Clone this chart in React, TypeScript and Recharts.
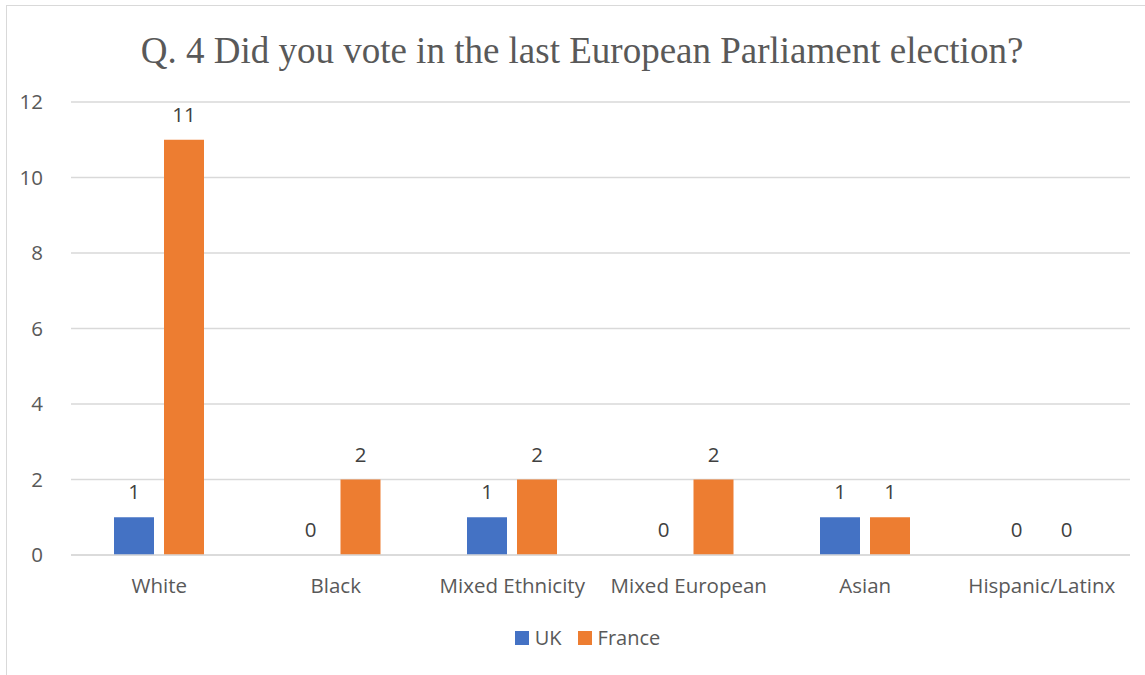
import React from "react"
import { BarChart, Bar, XAxis, YAxis, CartesianGrid, Legend, LabelList } from "recharts"

const categories = ["White", "Black", "Mixed Ethnicity", "Mixed European", "Asian", "Hispanic/Latinx"]
const ukValues = [1, 0, 1, 0, 1, 0]
const franceValues = [11, 2, 2, 2, 1, 0]
const yTicks = [0, 2, 4, 6, 8, 10, 12]

const data = categories.map((name, i) => ({ name, UK: ukValues[i], France: franceValues[i] }))

const tickFont = { fontFamily: "Open Sans", fontSize: 20.5, fill: "#595959" }

const LegendContent = () => (
  <div style={{ display: "flex", justifyContent: "center", gap: 16, fontFamily: "Open Sans", fontSize: 20, color: "#595959" }}>
    {[
      { label: "UK", color: "#4472c4" },
      { label: "France", color: "#ed7d31" }
    ].map((it) => (
      <div key={it.label} style={{ display: "flex", alignItems: "center" }}>
        <span style={{ width: 14, height: 14, background: it.color, display: "inline-block", marginRight: 6 }} />
        <span>{it.label}</span>
      </div>
    ))}
  </div>
)

const valueLabel = (props: any) => {
  const { x, y, width, value } = props
  return (
    <text
      x={Number(x) + Number(width) / 2}
      y={Number(y) - 18}
      textAnchor="middle"
      fontFamily="Open Sans"
      fontSize={20.5}
      fill="#404040"
    >
      {value}
    </text>
  )
}

const App: React.FC = () => {
  return (
    <div style={{ position: "absolute", left: 0, top: 0, width: 1145, height: 675, overflow: "hidden", background: "#fff" }}>
      <div
        style={{
          position: "absolute",
          left: 6,
          top: 5,
          width: 1160,
          height: 700,
          border: "1.5px solid #d9d9d9"
        }}
      />
      <div
        style={{
          position: "absolute",
          left: 0,
          top: 27,
          width: 1164,
          textAlign: "center",
          fontFamily: "Liberation Serif",
          fontSize: 37,
          color: "#595959",
          lineHeight: "48px"
        }}
      >
        Q. 4 Did you vote in the last European Parliament election?
      </div>
      <div style={{ position: "absolute", left: 0, top: 0 }}>
        <BarChart
          width={1145}
          height={675}
          data={data}
          margin={{ top: 102, right: 15, left: 11, bottom: 80 }}
          barGap={10}
          barSize={40}
        >
          <CartesianGrid vertical={false} stroke="#d9d9d9" strokeWidth={1.5} />
          <XAxis
            dataKey="name"
            axisLine={{ stroke: "#d9d9d9", strokeWidth: 1.5 }}
            tickLine={false}
            tick={tickFont}
            tickMargin={17}
            height={40}
            interval={0}
          />
          <YAxis
            domain={[0, 12]}
            ticks={yTicks}
            axisLine={false}
            tickLine={false}
            tick={tickFont}
            tickMargin={22}
            width={60}
          />
          <Legend
            verticalAlign="middle"
            layout="horizontal"
            wrapperStyle={{ top: 624, left: 0, width: 1175 }}
            content={<LegendContent />}
          />
          <Bar dataKey="UK" fill="#4472c4" minPointSize={0.01} isAnimationActive={false}>
            <LabelList dataKey="UK" content={valueLabel} />
          </Bar>
          <Bar dataKey="France" fill="#ed7d31" minPointSize={0.01} isAnimationActive={false}>
            <LabelList dataKey="France" content={valueLabel} />
          </Bar>
        </BarChart>
      </div>
    </div>
  )
}

export default App
